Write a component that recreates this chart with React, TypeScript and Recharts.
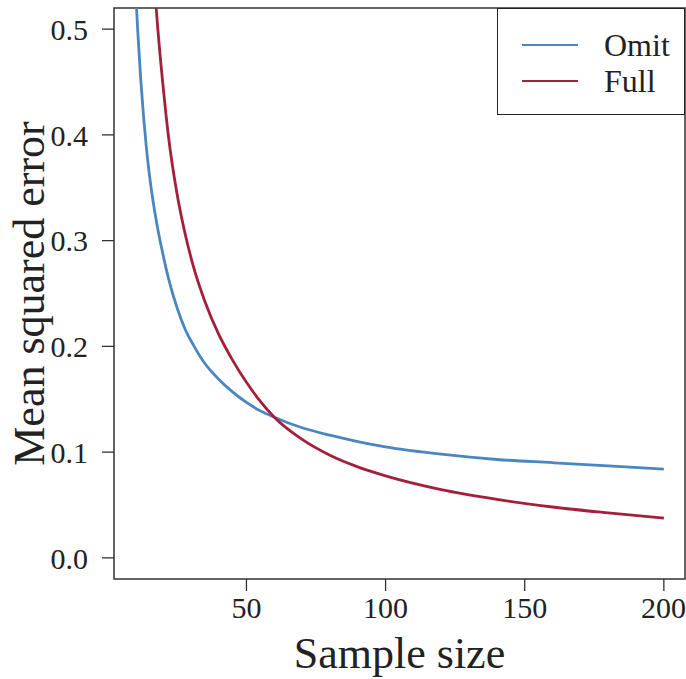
import { Line, LineChart, ReferenceArea, XAxis, YAxis } from "recharts";

const sampleSizes = [10, 11, 12, 13, 14, 15, 16, 17, 18, 20, 22, 25, 28, 31, 35, 40, 45, 50, 55, 60, 70, 80, 90, 100, 120, 140, 160, 180, 200];
const omitMse = [0.545, 0.495, 0.453, 0.418, 0.389, 0.365, 0.345, 0.328, 0.313, 0.287, 0.264, 0.237, 0.216, 0.201, 0.184, 0.169, 0.157, 0.147, 0.139, 0.133, 0.123, 0.116, 0.11, 0.105, 0.098, 0.093, 0.09, 0.087, 0.084];
const fullMse = [0.93, 0.85, 0.78, 0.72, 0.665, 0.615, 0.575, 0.54, 0.505, 0.447, 0.398, 0.345, 0.306, 0.275, 0.243, 0.2115, 0.187, 0.166, 0.148, 0.133, 0.112, 0.097, 0.086, 0.0775, 0.0645, 0.0553, 0.0481, 0.0425, 0.0375];

const xTicks = [50, 100, 150, 200];
const yTicks = [0, 0.1, 0.2, 0.3, 0.4, 0.5];

const series = [
  { key: "omit", name: "Omit", color: "#4a86c0" },
  { key: "full", name: "Full", color: "#a41f3a" },
];

const data = sampleSizes.map((n, i) => ({ n, omit: omitMse[i], full: fullMse[i] }));

const FONT = "'Liberation Serif', 'Times New Roman', serif";
const INK = "#222";

// legend drawn as an overlay so recharts doesn't reserve room for it
function LegendBox() {
  return (
    <div
      style={{
        position: "absolute",
        left: 497,
        top: 8,
        boxSizing: "border-box",
        width: 188,
        height: 107,
        border: "1.5px solid #222",
        background: "#fff",
        fontFamily: FONT,
        fontSize: 32,
        color: INK,
        paddingTop: 18,
      }}
    >
      {series.map((s) => (
        <div key={s.key} style={{ display: "flex", alignItems: "center", height: 36 }}>
          <span style={{ display: "inline-block", marginLeft: 24, width: 56, height: 2.5, background: s.color }} />
          <span style={{ marginLeft: 26, lineHeight: "36px" }}>{s.name}</span>
        </div>
      ))}
    </div>
  );
}

export default function App() {
  return (
    <div style={{ position: "absolute", left: 0, top: 0, width: 686, height: 679, background: "#fff" }}>
      <LineChart width={686} height={679} data={data} margin={{ top: 8, right: 1, left: 0, bottom: 0 }}>
        <XAxis
          dataKey="n"
          type="number"
          domain={[2.4, 207.6]}
          allowDataOverflow
          ticks={xTicks}
          axisLine={false}
          tickSize={12}
          tickMargin={6}
          tickLine={{ stroke: "#333", strokeWidth: 1.3 }}
          tick={{ fill: INK, fontSize: 30, fontFamily: FONT }}
          height={100}
          label={{ value: "Sample size", position: "insideBottom", offset: 11, fill: INK, fontSize: 44, fontFamily: FONT }}
        />
        <YAxis
          type="number"
          domain={[-0.02, 0.52]}
          allowDataOverflow
          ticks={yTicks}
          tickFormatter={(v: number) => v.toFixed(1)}
          axisLine={false}
          tickSize={12}
          tickMargin={14}
          tickLine={{ stroke: "#333", strokeWidth: 1.3 }}
          tick={{ fill: INK, fontSize: 30, fontFamily: FONT }}
          width={114}
          label={{
            value: "Mean squared error",
            angle: -90,
            position: "insideLeft",
            offset: 28,
            fill: INK,
            fontSize: 44,
            fontFamily: FONT,
            style: { textAnchor: "middle" },
          }}
        />
        <ReferenceArea x1={2.4} x2={207.6} y1={-0.02} y2={0.52} fill="none" stroke="#333" strokeWidth={1.5} ifOverflow="visible" />
        {series.map((s) => (
          <Line
            key={s.key}
            type="monotone"
            dataKey={s.key}
            name={s.name}
            stroke={s.color}
            strokeWidth={2.8}
            dot={false}
            activeDot={false}
            isAnimationActive={false}
          />
        ))}
      </LineChart>
      <LegendBox />
    </div>
  );
}
